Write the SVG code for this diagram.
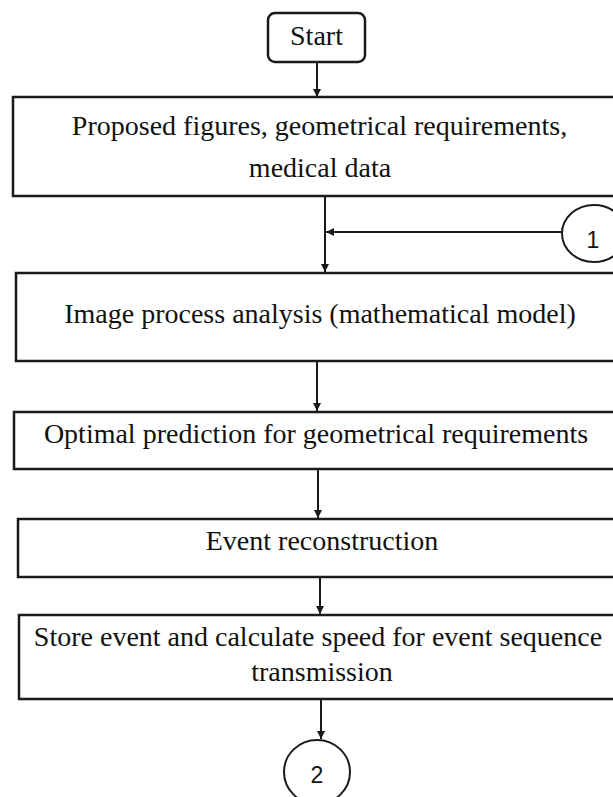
<svg xmlns="http://www.w3.org/2000/svg" width="613" height="797" viewBox="0 0 613 797">
  <style>
    .box { fill: #ffffff; stroke: #1a1a1a; stroke-width: 2.5; }
    .t { font-family: "Liberation Serif", "Times New Roman", serif; font-size: 28px; fill: #111111; text-anchor: middle; }
    .n { font-family: "Liberation Sans", Arial, sans-serif; font-size: 23px; fill: #111111; text-anchor: middle; }
    .c { fill: #ffffff; stroke: #1a1a1a; stroke-width: 2; }
    .ln { stroke: #1a1a1a; stroke-width: 2; fill: none; marker-end: url(#ah); }
  </style>
  <defs>
    <marker id="ah" viewBox="0 0 10 10" refX="10" refY="5" markerWidth="4" markerHeight="4" markerUnits="strokeWidth" orient="auto">
      <path d="M0,0 L10,5 L0,10 z" fill="#1a1a1a"/>
    </marker>
  </defs>
  <rect width="613" height="797" fill="#ffffff"/>

  <g id="connectors">
    <line class="ln" x1="317" y1="62" x2="317" y2="97"/>
    <line class="ln" x1="325" y1="196" x2="325" y2="272"/>
    <line class="ln" x1="562" y1="232" x2="326" y2="232"/>
    <line class="ln" x1="317" y1="361" x2="317" y2="411"/>
    <line class="ln" x1="318" y1="469" x2="318" y2="518"/>
    <line class="ln" x1="320" y1="577" x2="320" y2="614"/>
    <line class="ln" x1="321" y1="699" x2="321" y2="739"/>
  </g>

  <g id="start">
    <rect class="box" x="268" y="13" width="97" height="49" rx="7" ry="7" stroke-width="2"/>
    <text class="t" x="316.5" y="45">Start</text>
  </g>

  <g id="proposed">
    <rect class="box" x="13" y="97" width="640" height="99"/>
    <text class="t" x="319.5" y="135">Proposed figures, geometrical requirements,</text>
    <text class="t" x="320" y="177">medical data</text>
  </g>

  <g id="connector1">
    <ellipse class="c" cx="594" cy="233.5" rx="32" ry="28.5"/>
    <text class="n" x="593" y="248">1</text>
  </g>

  <g id="image">
    <rect class="box" x="16" y="273" width="640" height="88"/>
    <text class="t" x="320" y="323">Image process analysis (mathematical model)</text>
  </g>

  <g id="optimal">
    <rect class="box" x="14" y="412" width="640" height="57"/>
    <text class="t" x="316" y="443">Optimal prediction for geometrical requirements</text>
  </g>

  <g id="event">
    <rect class="box" x="18" y="519" width="640" height="58"/>
    <text class="t" x="322" y="550">Event reconstruction</text>
  </g>

  <g id="store">
    <rect class="box" x="19" y="615" width="640" height="84"/>
    <text class="t" x="318" y="646">Store event and calculate speed for event sequence</text>
    <text class="t" x="322" y="681">transmission</text>
  </g>

  <g id="connector2">
    <ellipse class="c" cx="317" cy="772" rx="33" ry="32"/>
    <text class="n" x="317" y="783">2</text>
  </g>
</svg>
